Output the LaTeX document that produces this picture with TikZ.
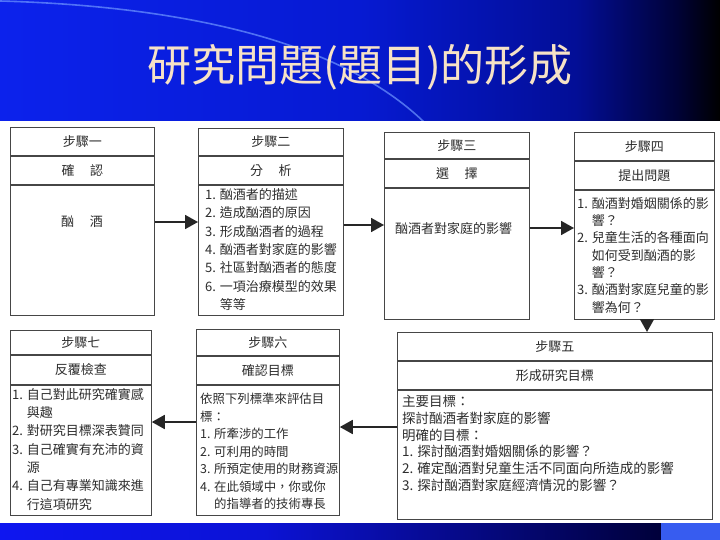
\documentclass[tikz,border=0pt]{standalone}
\usepackage{fontspec}
\newfontfamily\cjk{Noto Sans CJK TC}
\usetikzlibrary{arrows.meta}
\definecolor{tbA}{RGB}{12,34,236}
\definecolor{tbB}{RGB}{6,26,210}
\definecolor{tbC}{RGB}{3,14,150}
\definecolor{tbD}{RGB}{0,2,55}
\definecolor{bbA}{RGB}{14,22,240}
\definecolor{bbB}{RGB}{0,0,58}
\definecolor{lightbox}{RGB}{55,92,240}
\definecolor{arcc}{RGB}{110,150,255}
\definecolor{titlec}{RGB}{246,226,198}
\definecolor{linec}{RGB}{70,70,70}
\definecolor{txt}{RGB}{45,45,45}
\pgfdeclarehorizontalshading{topband}{100bp}{color(0bp)=(tbA); color(25bp)=(tbA); color(50bp)=(tbB); color(65bp)=(tbC); color(72bp)=(tbD); color(75bp)=(black); color(100bp)=(black)}
\pgfdeclarehorizontalshading{botband}{100bp}{color(0bp)=(bbA); color(25bp)=(bbA); color(45bp)=(bbA!85!bbB); color(75bp)=(bbB); color(100bp)=(bbB)}
\begin{document}
\begin{tikzpicture}[x=1pt,y=-1pt,
  cell/.style={draw=linec, line width=0.8pt, inner sep=0pt, anchor=north west,
    text=txt, font=\cjk\fontsize{13}{16}\selectfont},
  body/.style={inner sep=0pt, anchor=north west, align=left, text=txt},
  arr/.style={draw=black!85, line width=1.8pt, -{Triangle[length=13pt,width=14pt]}}]
\useasboundingbox (0,0) rectangle (720,540);
\fill[white] (0,0) rectangle (720,540);
% top band
\shade[shading=topband] (0,0) rectangle (720,121);
\begin{scope}
\clip (0,0) rectangle (720,121);
\draw[arcc, line width=1.6pt, opacity=0.7] (0,1) .. controls (180,6) and (340,40) .. (425,123);
\end{scope}
\node[font=\cjk\fontsize{44}{44}\selectfont, text=titlec] (title) at (360,67.5) {研究問題(題目)的形成};
% bottom band
\shade[shading=botband] (0,523) rectangle (661,540);
\fill[lightbox] (661,523) rectangle (720,540);

% step 1
\node[cell, minimum width=144, minimum height=28] (s1h) at (10,127) {步驟一};
\node[cell, minimum width=144, minimum height=28] (s1t) at (s1h.south west) {確\hspace{1.2em}認};
\node[cell, minimum width=144, minimum height=130] (s1b) at (s1t.south west) {};
\node[text=txt, font=\cjk\fontsize{13}{16}\selectfont, inner sep=0pt] (s1x) at (82,222) {酗\hspace{1.2em}酒};

% step 2
\node[cell, minimum width=145, minimum height=27] (s2h) at (198,128) {步驟二};
\node[cell, minimum width=145, minimum height=28] (s2t) at (s2h.south west) {分\hspace{1.2em}析};
\node[cell, minimum width=145, minimum height=130] (s2b) at (s2t.south west) {};
\node[body, font=\cjk\fontsize{13}{18.3}\selectfont] (s2x) at (205,188.5)
  {1. 酗酒者的描述\\2. 造成酗酒的原因\\3. 形成酗酒者的過程\\4. 酗酒者對家庭的影響\\5. 社區對酗酒者的態度\\6. 一項治療模型的效果\\\phantom{6. }等等};

% step 3
\node[cell, minimum width=145, minimum height=26] (s3h) at (384,132) {步驟三};
\node[cell, minimum width=145, minimum height=28] (s3t) at (s3h.south west) {選\hspace{1.2em}擇};
\node[cell, minimum width=145, minimum height=131] (s3b) at (s3t.south west) {};
\node[body, font=\cjk\fontsize{13}{18}\selectfont] (s3x) at (395,222) {酗酒者對家庭的影響};

% step 4
\node[cell, minimum width=140, minimum height=28] (s4h) at (574,132) {步驟四};
\node[cell, minimum width=140, minimum height=28] (s4t) at (s4h.south west) {提出問題};
\node[cell, minimum width=140, minimum height=129] (s4b) at (s4t.south west) {};
\node[body, font=\cjk\fontsize{13}{17.3}\selectfont] (s4x) at (577,197)
  {1. 酗酒對婚姻關係的影\\\phantom{1. }響？\\2. 兒童生活的各種面向\\\phantom{2. }如何受到酗酒的影\\\phantom{2. }響？\\3. 酗酒對家庭兒童的影\\\phantom{3. }響為何？};

% step 5
\node[cell, minimum width=315, minimum height=28] (s5h) at (397,332) {步驟五};
\node[cell, minimum width=315, minimum height=28] (s5t) at (s5h.south west) {形成研究目標};
\node[cell, minimum width=315, minimum height=129] (s5b) at (s5t.south west) {};
\node[body, font=\cjk\fontsize{13.5}{16.8}\selectfont] (s5x) at (402,395)
  {主要目標：\\探討酗酒者對家庭的影響\\明確的目標：\\1. 探討酗酒對婚姻關係的影響？\\2. 確定酗酒對兒童生活不同面向所造成的影響\\3. 探討酗酒對家庭經濟情況的影響？};

% step 6
\node[cell, minimum width=143, minimum height=26] (s6h) at (196,329) {步驟六};
\node[cell, minimum width=143, minimum height=28] (s6t) at (s6h.south west) {確認目標};
\node[cell, minimum width=143, minimum height=130] (s6b) at (s6t.south west) {};
\node[body, font=\cjk\fontsize{12.4}{17.5}\selectfont] (s6x) at (200,393)
  {依照下列標準來評估目\\標：\\1. 所牽涉的工作\\2. 可利用的時間\\3. 所預定使用的財務資源\\4. 在此領域中，你或你\\\phantom{4. }的指導者的技術專長};

% step 7
\node[cell, minimum width=141, minimum height=24] (s7h) at (10,330) {步驟七};
\node[cell, minimum width=141, minimum height=29] (s7t) at (s7h.south west) {反覆檢查};
\node[cell, minimum width=141, minimum height=130] (s7b) at (s7t.south west) {};
\node[body, font=\cjk\fontsize{13}{18.3}\selectfont] (s7x) at (12,388)
  {1. 自己對此研究確實感\\\phantom{1. }與趣\\2. 對研究目標深表贊同\\3. 自己確實有充沛的資\\\phantom{3. }源\\4. 自己有專業知識來進\\\phantom{4. }行這項研究};

% connectors
\coordinate (a12) at (0,222);
\coordinate (a23) at (0,225);
\coordinate (a34) at (0,228);
\coordinate (a45) at (647,0);
\coordinate (a56) at (0,427);
\coordinate (a67) at (0,422);
\draw[arr] (s1b.east |- a12) -- (s2b.west |- a12);
\draw[arr] (s2b.east |- a23) -- (s3b.west |- a23);
\draw[arr] (s3b.east |- a34) -- (s4b.west |- a34);
\draw[arr] (s4b.south -| a45) -- (s5h.north -| a45);
\draw[arr] (s5b.west |- a56) -- (s6b.east |- a56);
\draw[arr] (s6b.west |- a67) -- (s7b.east |- a67);
\end{tikzpicture}
\end{document}
